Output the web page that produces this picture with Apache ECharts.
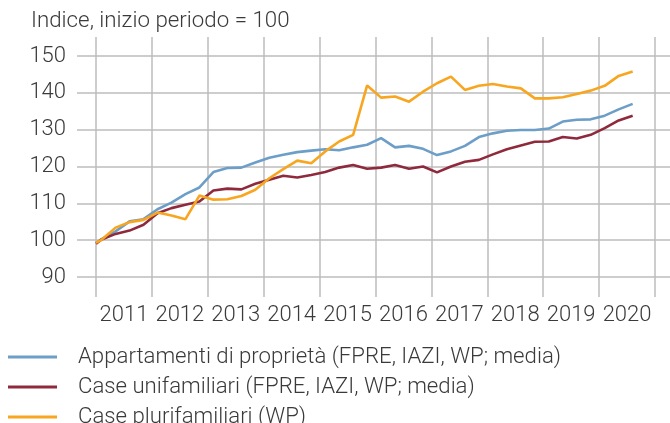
<!DOCTYPE html>
<html><head><meta charset="utf-8">
<script src="https://cdn.jsdelivr.net/npm/echarts@6/dist/echarts.min.js"></script>
<style>html,body{margin:0;padding:0;background:#fff}#c{width:670px;height:423px}</style>
</head><body><div id="c"></div>
<script>
const titleText = 'Indice, inizio periodo = 100';
const years = ['2011','2012','2013','2014','2015','2016','2017','2018','2019','2020'];
const periods = [2011.0,
  2011.1,2011.35,2011.6,2011.85,
  2012.1,2012.35,2012.6,2012.85,
  2013.1,2013.35,2013.6,2013.85,
  2014.1,2014.35,2014.6,2014.85,
  2015.1,2015.35,2015.6,2015.85,
  2016.1,2016.35,2016.6,2016.85,
  2017.1,2017.35,2017.6,2017.85,
  2018.1,2018.35,2018.6,2018.85,
  2019.1,2019.35,2019.6,2019.85,
  2020.1,2020.35,2020.6];
const appartamenti = [99.2,
  100.3,102.4,105.1,105.7,108.4,110.2,112.5,114.3,118.5,119.6,
  119.7,121.1,122.4,123.2,123.9,124.3,124.7,124.4,125.2,125.9,
  127.7,125.2,125.6,124.8,123.1,124.1,125.6,128.0,129.0,129.7,
  129.9,129.9,130.3,132.2,132.7,132.8,133.8,135.5,137.0];
const unifamiliari = [99.0,
  100.2,101.7,102.6,104.2,107.3,108.7,109.6,110.5,113.5,114.0,
  113.8,115.3,116.4,117.5,117.0,117.7,118.5,119.7,120.4,119.4,
  119.7,120.4,119.4,120.0,118.4,120.0,121.3,121.8,123.3,124.7,
  125.7,126.7,126.8,128.0,127.6,128.6,130.4,132.5,133.8];
const plurifamiliari = [99.3,
  100.1,103.4,104.9,105.5,107.5,106.7,105.7,112.1,111.0,111.1,
  112.0,113.7,116.8,119.3,121.6,120.9,124.1,126.8,128.6,142.0,
  138.7,139.0,137.6,140.3,142.6,144.4,140.8,141.9,142.4,141.7,
  141.2,138.5,138.5,138.8,139.7,140.6,141.9,144.6,145.8];
const seriesNames = ['Appartamenti di proprietà (FPRE, IAZI, WP; media)',
  'Case unifamiliari (FPRE, IAZI, WP; media)',
  'Case plurifamiliari (WP)'];
const colors = ['#6c9ec8','#8e2a3c','#f8a51f'];
const yTicks = {min: 90, max: 150, interval: 10};

const pair = arr => periods.map((p, i) => [p, arr[i]]);
const font = 'Roboto, "Liberation Sans", sans-serif';
const txt = '#3a3a3a';
const grid = '#bdbdbd';
const legendTops = [346, 376, 406];

const chart = echarts.init(document.getElementById('c'), null, {renderer: 'canvas'});
chart.setOption({
  animation: false,
  color: colors,
  title: {text: titleText, left: 31, top: 10, padding: 0,
    textStyle: {fontFamily: font, fontSize: 22.3, fontWeight: 300, color: txt}},
  legend: seriesNames.map((n, i) => ({
    orient: 'vertical', left: 8, top: legendTops[i], padding: 0,
    itemWidth: 49, itemHeight: 3, icon: 'rect',
    textStyle: {fontFamily: font, fontSize: 22.2, fontWeight: 300, color: txt, padding: [0,0,0,16]},
    data: [n]})),
  grid: [
    {left: 96, right: 15, top: 37, bottom: 126},
    {left: 77, right: 0, top: 56, bottom: 146}
  ],
  xAxis: [
    {type: 'category', gridIndex: 0, data: years, boundaryGap: true,
      axisLine: {show: false}, axisTick: {show: false},
      splitLine: {show: true, interval: 0, lineStyle: {color: grid, width: 1.5}},
      axisLabel: {interval: 0, margin: 7, fontFamily: font, fontSize: 22, fontWeight: 300, color: txt}},
    {type: 'value', gridIndex: 1, min: 2010.66, max: 2021.268,
      show: false, splitLine: {show: false}}
  ],
  yAxis: [
    {type: 'value', gridIndex: 0, show: false, min: 0, max: 1, splitLine: {show: false}},
    {type: 'value', gridIndex: 1, min: yTicks.min, max: yTicks.max, interval: yTicks.interval,
      axisLine: {show: false}, axisTick: {show: false},
      splitLine: {lineStyle: {color: grid, width: 1.5}},
      axisLabel: {margin: 11, fontFamily: font, fontSize: 22, fontWeight: 300, color: txt}}
  ],
  series: [
    {name: seriesNames[0], type: 'line', xAxisIndex: 1, yAxisIndex: 1, data: pair(appartamenti),
      symbol: 'none', lineStyle: {width: 2.6}, z: 3},
    {name: seriesNames[1], type: 'line', xAxisIndex: 1, yAxisIndex: 1, data: pair(unifamiliari),
      symbol: 'none', lineStyle: {width: 2.6}, z: 4},
    {name: seriesNames[2], type: 'line', xAxisIndex: 1, yAxisIndex: 1, data: pair(plurifamiliari),
      symbol: 'none', lineStyle: {width: 2.6}, z: 5}
  ]
});
</script></body></html>
